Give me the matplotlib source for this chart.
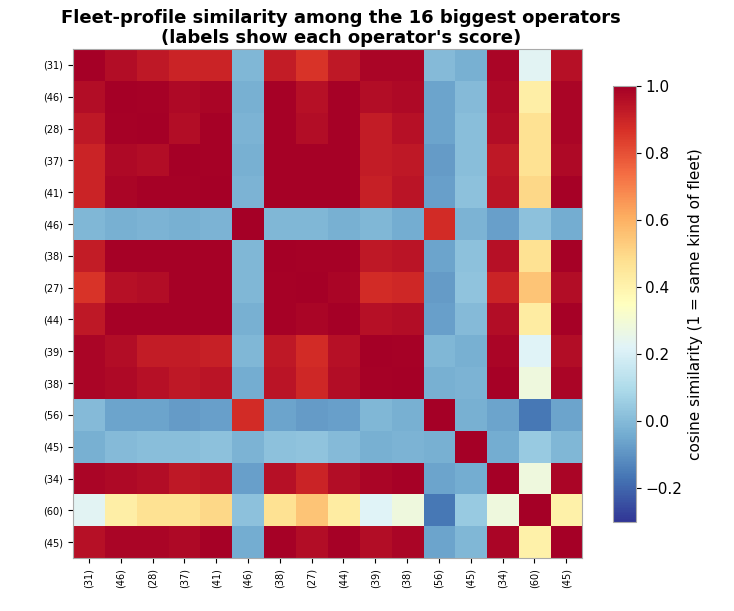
import matplotlib
matplotlib.use("Agg")
import matplotlib.pyplot as plt
import numpy as np

labels = ["(31)", "(46)", "(28)", "(37)", "(41)", "(46)", "(38)", "(27)",
          "(44)", "(39)", "(38)", "(56)", "(45)", "(34)", "(60)", "(45)"]

similarity = [
    [1.00, 0.96, 0.93, 0.90, 0.90, -0.01, 0.92, 0.86, 0.93, 0.98, 0.98, 0.00, -0.03, 0.98, 0.23, 0.95],
    [0.96, 1.00, 0.99, 0.97, 0.98, -0.03, 0.99, 0.95, 0.99, 0.96, 0.97, -0.06, 0.00, 0.97, 0.42, 0.98],
    [0.93, 0.99, 1.00, 0.96, 0.99, -0.02, 0.99, 0.96, 0.99, 0.92, 0.95, -0.06, 0.01, 0.96, 0.47, 0.98],
    [0.90, 0.97, 0.96, 1.00, 0.99, -0.03, 0.99, 0.99, 0.99, 0.92, 0.93, -0.08, 0.01, 0.93, 0.47, 0.97],
    [0.90, 0.98, 0.99, 0.99, 1.00, -0.02, 0.99, 0.99, 0.99, 0.91, 0.94, -0.07, 0.02, 0.94, 0.50, 0.99],
    [-0.01, -0.03, -0.02, -0.03, -0.02, 1.00, -0.01, -0.01, -0.03, -0.01, -0.04, 0.88, -0.02, -0.07, 0.02, -0.04],
    [0.92, 0.99, 0.99, 0.99, 0.99, -0.01, 1.00, 0.99, 0.99, 0.93, 0.94, -0.06, 0.02, 0.95, 0.47, 0.99],
    [0.86, 0.95, 0.96, 0.99, 0.99, -0.01, 0.99, 1.00, 0.98, 0.88, 0.89, -0.08, 0.03, 0.90, 0.55, 0.96],
    [0.93, 0.99, 0.99, 0.99, 0.99, -0.03, 0.99, 0.98, 1.00, 0.95, 0.96, -0.07, 0.00, 0.96, 0.43, 0.99],
    [0.98, 0.96, 0.92, 0.92, 0.91, -0.01, 0.93, 0.88, 0.95, 1.00, 0.99, -0.01, -0.03, 0.98, 0.22, 0.96],
    [0.98, 0.97, 0.95, 0.93, 0.94, -0.04, 0.94, 0.89, 0.96, 0.99, 1.00, -0.03, -0.02, 0.99, 0.28, 0.98],
    [0.00, -0.06, -0.06, -0.08, -0.07, 0.88, -0.06, -0.08, -0.07, -0.01, -0.03, 1.00, -0.03, -0.06, -0.16, -0.06],
    [-0.03, 0.00, 0.01, 0.01, 0.02, -0.02, 0.02, 0.03, 0.00, -0.03, -0.02, -0.03, 1.00, -0.04, 0.05, -0.01],
    [0.98, 0.97, 0.96, 0.93, 0.94, -0.07, 0.95, 0.90, 0.96, 0.98, 0.99, -0.06, -0.04, 1.00, 0.28, 0.98],
    [0.23, 0.42, 0.47, 0.47, 0.50, 0.02, 0.47, 0.55, 0.43, 0.22, 0.28, -0.16, 0.05, 0.28, 1.00, 0.41],
    [0.95, 0.98, 0.98, 0.97, 0.99, -0.04, 0.99, 0.96, 0.99, 0.96, 0.98, -0.06, -0.01, 0.98, 0.41, 1.00],
]

fig = plt.figure(figsize=(7.34, 6.11), dpi=100)
ax = fig.add_axes([0.0995, 0.0867, 0.6935, 0.833])
cax = fig.add_axes([0.835, 0.1457, 0.031, 0.7136])

im = ax.imshow(np.array(similarity), cmap="RdYlBu_r", vmin=-0.3, vmax=1.0, aspect="auto")
ax.set_xticks(range(len(labels)))
ax.set_yticks(range(len(labels)))
ax.set_xticklabels(labels, rotation=90, fontsize=7)
ax.set_yticklabels(labels, fontsize=7)
for s in ax.spines.values():
    s.set_edgecolor("#aaaaaa")

cb = fig.colorbar(im, cax=cax)
cb.outline.set_edgecolor("#aaaaaa")
cb.ax.tick_params(labelsize=11)
cb.set_label("cosine similarity (1 = same kind of fleet)", fontsize=11)

fig.text(0.4646, 0.985, "Fleet-profile similarity among the 16 biggest operators\n(labels show each operator's score)",
         ha="center", va="top", fontsize=13, fontweight="bold", linespacing=1.12)

fig.savefig("out.png", dpi=100)
